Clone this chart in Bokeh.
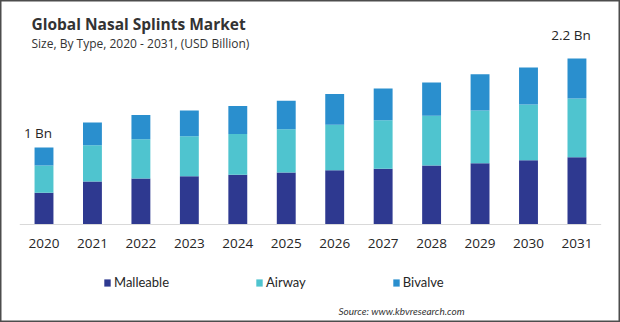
from bokeh.plotting import figure
from bokeh.models import Range1d, ColumnDataSource, Legend, LegendItem, Label
from bokeh.core.properties import value
from bokeh.embed import file_html
from bokeh.resources import INLINE

years = [2020, 2021, 2022, 2023, 2024, 2025, 2026, 2027, 2028, 2029, 2030, 2031]
year_labels = [str(y) for y in years]
malleable = [0.42, 0.57, 0.61, 0.64, 0.66, 0.69, 0.72, 0.74, 0.78, 0.81, 0.85, 0.89]
airway = [0.36, 0.48, 0.52, 0.53, 0.54, 0.57, 0.60, 0.64, 0.66, 0.70, 0.74, 0.78]
bivalve = [0.24, 0.30, 0.32, 0.34, 0.37, 0.38, 0.41, 0.42, 0.44, 0.48, 0.49, 0.53]
series = ["Malleable", "Airway", "Bivalve"]
colors = ["#2E3990", "#4FC4CF", "#2A8FCE"]
total_labels = {2020: "1 Bn", 2031: "2.2 Bn"}

W, H = 620, 322
px_per_year = 48.45
first_center_px = 43.5
baseline_px = 224
px_per_bn = 75.5

x0 = years[0] - first_center_px / px_per_year
x1 = x0 + W / px_per_year
y0 = -(H - baseline_px) / px_per_bn
y1 = baseline_px / px_per_bn

p = figure(width=W, height=H, output_backend="svg", toolbar_location=None,
           x_range=Range1d(x0, x1), y_range=Range1d(y0, y1),
           min_border=0, min_border_left=0, min_border_right=0,
           min_border_top=0, min_border_bottom=0)
p.axis.visible = False
p.grid.visible = False
p.outline_line_color = "#4d4d4d"
p.outline_line_width = 2
p.background_fill_color = "white"
p.border_fill_color = "white"

src = ColumnDataSource(dict(year=years, Malleable=malleable, Airway=airway, Bivalve=bivalve,
                            label=year_labels))
renderers = p.vbar_stack(series, x="year", width=0.39, color=colors, source=src,
                         line_color=None)

# axis line
p.line(x=[years[0] - 0.5, years[-1] + 0.5], y=[0, 0], line_color="#d9d9d9", line_width=1)

# year tick labels
p.text(x="year", y=0, text="label", source=src, y_offset=19,
       text_align="center", text_baseline="middle",
       text_font=value("Open Sans"), text_font_size="13.5px", text_color="#262626")

# total labels
totals = {y: m + a + b for y, m, a, b in zip(years, malleable, airway, bivalve)}
for yr, txt in total_labels.items():
    off = 14 if yr == years[0] else 23
    p.add_layout(Label(x=yr, y=totals[yr], text=txt, x_offset=-6, y_offset=off,
                       text_align="center", text_baseline="middle",
                       text_font="Open Sans", text_font_size="13.5px", text_color="#262626"))

# title / subtitle
p.add_layout(Label(x=31, y=H - 23, x_units="screen", y_units="screen",
                   text="Global Nasal Splints Market", text_font="Open Sans",
                   text_font_style="bold", text_font_size="15.5px", text_color="#333333",
                   text_baseline="middle"))
p.add_layout(Label(x=31, y=H - 43, x_units="screen", y_units="screen",
                   text="Size, By Type, 2020 - 2031, (USD Billion)", text_font="Open Sans",
                   text_font_size="12px", text_color="#333333", text_baseline="middle"))

# source
p.add_layout(Label(x=338, y=H - 310, x_units="screen", y_units="screen",
                   text="Source: www.kbvresearch.com", text_font="Lato",
                   text_font_style="italic", text_font_size="10px", text_color="#333333",
                   text_baseline="middle"))

legend = Legend(items=[LegendItem(label=s, renderers=[r]) for s, r in zip(series, renderers)],
                orientation="horizontal", location=(103, H - 292),
                glyph_width=8, glyph_height=9, label_standoff=3, spacing=86,
                label_text_font="Lato", label_text_font_size="13px",
                label_text_color="#262626", padding=0, margin=0,
                border_line_color=None, background_fill_alpha=0, label_height=20)
p.add_layout(legend)

open("out.html", "w").write(file_html(p, INLINE))
